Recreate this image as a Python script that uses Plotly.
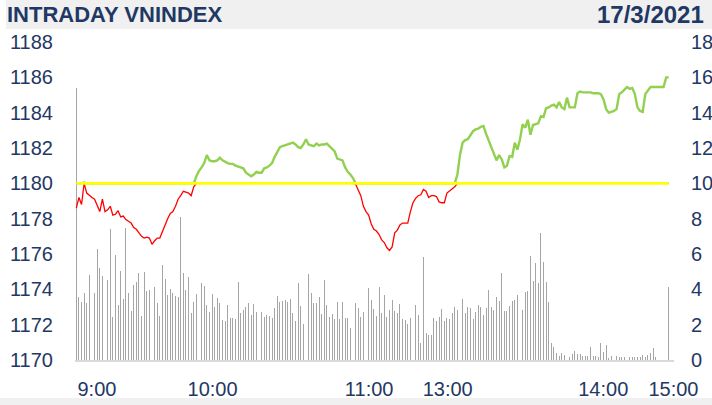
import plotly.graph_objects as go

# ---------------- data ----------------
TITLE = "INTRADAY VNINDEX"
DATE_TEXT = "17/3/2021"
REFERENCE = 1180

TICK_LABELS = ["9:00", "10:00", "11:00", "13:00", "14:00", "15:00"]
TICK_AT = [7.9, 52.2, 112.2, 142.3, 201.9, 228.8]   # minute index of each label

PRICE = [
    1178.6, 1179.2, 1178.8, 1180.05, 1179.45, 1179.3, 1179.2, 1179.1, 1178.7, 1178.4,
    1179.1, 1178.4, 1178.5, 1178.7, 1178.2, 1178.25, 1178.45, 1178.1, 1178.15, 1177.95,
    1177.85, 1177.75, 1177.5, 1177.4, 1177.2, 1177.0, 1176.9, 1176.95, 1176.9, 1176.55,
    1176.75, 1176.9, 1176.9, 1177.3, 1177.6, 1178.0, 1178.3, 1178.4, 1178.7, 1179.1,
    1179.3, 1179.55, 1179.5, 1179.45, 1179.3, 1179.8, 1180.4, 1180.7, 1180.9, 1181.15,
    1181.6, 1181.3, 1181.25, 1181.25, 1181.3, 1181.45, 1181.3, 1181.2, 1181.15, 1181.1,
    1181.1, 1181.0, 1180.95, 1180.9, 1180.85, 1180.6, 1180.5, 1180.4, 1180.5, 1180.65,
    1180.6, 1180.6, 1180.85, 1180.9, 1181.0, 1181.15, 1181.5, 1181.8, 1182.05, 1182.1,
    1182.15, 1182.2, 1182.25, 1182.3, 1182.2, 1182.05, 1182.0, 1182.2, 1182.5, 1182.2,
    1182.15, 1182.1, 1182.25, 1182.15, 1182.2, 1182.2, 1182.25, 1182.1, 1181.95, 1181.8,
    1181.4, 1181.35, 1181.3, 1180.9, 1180.65, 1180.5, 1180.3, 1179.95, 1179.65, 1179.3,
    1178.7, 1178.4, 1178.2, 1177.7, 1177.4, 1177.3, 1177.1, 1176.8, 1176.65, 1176.35,
    1176.2, 1176.4, 1177.2, 1177.35, 1177.65, 1177.75, 1177.75, 1177.75, 1178.4, 1178.9,
    1179.15, 1179.3, 1179.35, 1179.65, 1179.55, 1179.2, 1179.3, 1179.3, 1179.25, 1178.95,
    1178.9, 1178.9, 1179.45, 1179.55, 1179.7, 1179.8, 1180.5, 1181.6, 1182.3, 1182.45,
    1182.5, 1182.75, 1182.95, 1183.05, 1183.1, 1183.2, 1183.25, 1182.8, 1182.4, 1182.1,
    1181.7, 1181.3, 1181.6, 1181.35, 1180.9, 1181.0, 1181.55, 1181.5, 1182.3, 1181.9,
    1182.5, 1183.35, 1183.15, 1183.6, 1182.75, 1183.3, 1183.35, 1183.4, 1183.8, 1183.75,
    1184.25, 1184.3, 1184.4, 1184.45, 1184.3, 1184.6, 1184.3, 1184.2, 1184.85, 1184.3,
    1184.3, 1184.3, 1185.1, 1185.2, 1185.15, 1185.15, 1185.15, 1185.15, 1185.1, 1185.1,
    1185.1, 1185.05, 1184.75, 1184.2, 1184.0, 1184.05, 1184.1, 1184.2, 1185.05, 1185.15,
    1185.3, 1185.45, 1185.35, 1185.4, 1185.05, 1184.3, 1184.1, 1184.05, 1185.05, 1185.25,
    1185.45, 1185.45, 1185.45, 1185.45, 1185.45, 1185.45, 1186.0, 1186.0,
]

VOLUME = [
    15.4, 3.58, 3.3, 3.77, 3.24, 4.81, 6.5, 3.77, 6.26, 5.19,
    4.75, 2.11, 4.53, 7.39, 2.45, 5.94, 3.11, 5.05, 3.43, 7.45,
    3.77, 2.79, 4.24, 4.43, 4.9, 2.49, 5.0, 3.9, 3.96, 3.06,
    4.15, 3.24, 2.49, 5.38, 4.57, 3.68, 4.0, 3.81, 3.62, 3.58,
    8.07, 4.9, 3.96, 4.72, 2.68, 3.3, 3.73, 3.68, 4.38, 4.19,
    3.11, 2.73, 3.73, 2.98, 3.49, 3.21, 2.26, 2.22, 3.11, 2.36,
    2.36, 2.3, 4.4, 2.64, 2.83, 2.98, 3.21, 2.55, 3.17, 2.73,
    2.11, 2.73, 2.45, 2.55, 2.49, 2.36, 2.92, 3.62, 3.3, 3.36,
    3.4, 3.3, 3.43, 2.64, 2.22, 4.38, 3.06, 2.04, 1.55, 4.87,
    3.81, 3.24, 3.21, 3.55, 2.6, 4.53, 3.11, 2.45, 2.6, 2.3,
    3.3, 2.3, 3.3, 2.36, 2.36, 1.79, 4.38, 3.24, 2.92, 2.45,
    2.73, 2.92, 4.09, 3.4, 2.87, 2.49, 4.15, 2.64, 3.68, 2.45,
    2.83, 3.4, 2.79, 2.68, 3.17, 2.3, 2.26, 2.04, 2.36, 3.55,
    3.11, 2.53, 0.98, 5.81, 1.51, 1.41, 1.41, 2.38, 2.22, 2.45,
    2.9, 2.22, 2.36, 2.3, 2.64, 2.98, 2.83, 3.02, 3.44, 2.64,
    2.98, 2.92, 2.34, 2.73, 3.11, 3.02, 2.53, 2.92, 3.96, 2.98,
    2.83, 3.58, 3.36, 4.94, 2.79, 2.79, 3.06, 3.36, 3.4, 3.68,
    3.73, 2.83, 3.87, 3.92, 5.89, 4.49, 5.51, 4.38, 7.17, 5.56,
    4.41, 3.3, 0.94, 0.72, 0.41, 0.23, 0.41, 0.28, 0.26, 0.19,
    0.34, 0.53, 0.34, 0.34, 0.23, 0.23, 0.23, 0.75, 0.23, 0.23,
    0.15, 0.98, 0.47, 0.85, 0.09, 0.23, 0.15, 0.23, 0.15, 0.19,
    0.15, 0.23, 0.15, 0.15, 0.19, 0.15, 0.19, 0.28, 0.15, 0.28,
    0.38, 0.66, 0.15, 0.0, 0.0, 0.0, 0.0, 4.15,
]

# ---------------- styling / layout constants ----------------
W, H = 712, 405
ML, MR, MT, MB = 75, 38, 42, 45
PLOT_W = W - ML - MR
PLOT_H = H - MT - MB
NAVY = "#1F3864"
FONT = "Liberation Sans, Arial, sans-serif"


def px_x(px):
    return (px - ML) / PLOT_W


def px_y(py):
    return (H - MB - py) / PLOT_H


idx = list(range(len(PRICE)))
green = [max(p, REFERENCE) for p in PRICE]
red = [min(p, REFERENCE) for p in PRICE]

fig = go.Figure()
fig.add_trace(go.Bar(
    x=idx, y=VOLUME, yaxis="y", width=0.36,
    marker=dict(color="rgb(165,165,165)", line=dict(width=0)),
    hoverinfo="skip",
))
fig.add_trace(go.Scatter(
    x=idx, y=green, yaxis="y2", mode="lines",
    line=dict(color="#92D050", width=2.4), hoverinfo="skip",
))
fig.add_trace(go.Scatter(
    x=idx, y=red, yaxis="y2", mode="lines",
    line=dict(color="#FF0000", width=1.3), hoverinfo="skip",
))
fig.add_trace(go.Scatter(
    x=[idx[0], idx[-1]], y=[REFERENCE, REFERENCE], yaxis="y2", mode="lines",
    line=dict(color="#FFFF00", width=2.6), hoverinfo="skip",
))

tickfont = dict(family=FONT, size=20, color=NAVY)

fig.update_layout(
    width=W, height=H,
    margin=dict(l=ML, r=MR, t=MT, b=MB, pad=0, autoexpand=False),
    paper_bgcolor="white", plot_bgcolor="white",
    showlegend=False, bargap=0,
    xaxis=dict(
        range=[-0.5, 229], tickmode="array", tickvals=TICK_AT, ticktext=TICK_LABELS,
        showgrid=False, zeroline=False, showline=True, linecolor="#D9D9D9", linewidth=2,
        ticks="", tickfont=tickfont, ticklabelstandoff=10, automargin=False,
    ),
    yaxis=dict(
        range=[0, 18], dtick=2, side="right", showgrid=False, zeroline=False,
        showline=False, ticks="", tickfont=tickfont, ticklabelstandoff=16,
        automargin=False,
    ),
    yaxis2=dict(
        range=[1170, 1188], dtick=2, side="left", overlaying="y", showgrid=False,
        zeroline=False, showline=False, ticks="", tickfont=tickfont, ticklabelstandoff=21,
        automargin=False,
    ),
    shapes=[
        dict(type="rect", xref="paper", yref="paper", layer="below",
             x0=px_x(6), x1=px_x(W), y0=px_y(29), y1=px_y(0),
             fillcolor="#F0F0F0", line=dict(width=0)),
        dict(type="rect", xref="paper", yref="paper", layer="below",
             x0=px_x(0), x1=px_x(W), y0=px_y(H), y1=px_y(398),
             fillcolor="#F0F0F0", line=dict(width=0)),
    ],
    annotations=[
        dict(text=TITLE, xref="paper", yref="paper", x=px_x(5), y=px_y(14),
             xanchor="left", yanchor="middle", showarrow=False,
             font=dict(family=FONT, size=22, color=NAVY, weight="bold")),
        dict(text=DATE_TEXT, xref="paper", yref="paper", x=px_x(706), y=px_y(14),
             xanchor="right", yanchor="middle", showarrow=False,
             font=dict(family=FONT, size=24, color=NAVY, weight="bold")),
    ],
)

fig.write_html(
    "out.html",
    config={"displayModeBar": False, "staticPlot": True},
    post_script="document.body.style.margin='0';document.body.style.padding='0';"
                "document.body.style.overflow='hidden';",
)
